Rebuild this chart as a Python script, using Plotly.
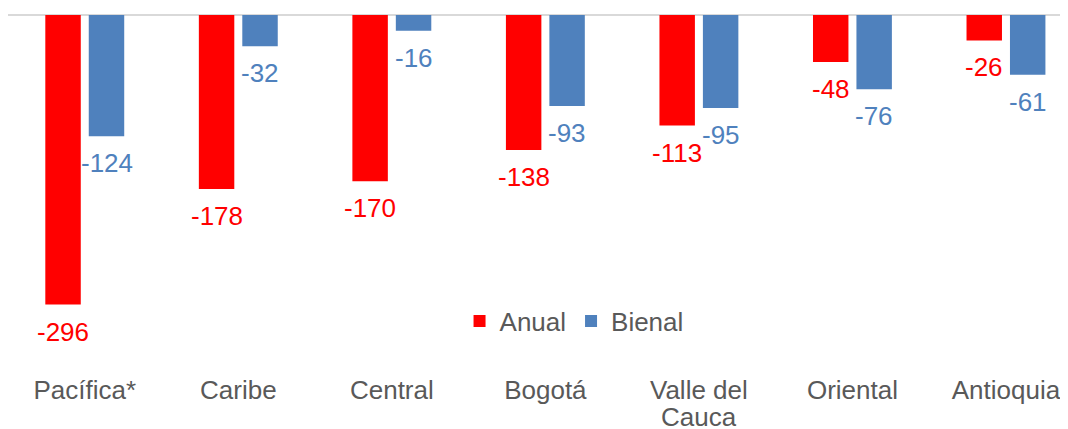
import plotly.graph_objects as go

# Data
regiones = ['Pacífica*', 'Caribe', 'Central', 'Bogotá', 'Valle del<br>Cauca', 'Oriental', 'Antioquia']
anual = [-296, -178, -170, -138, -113, -48, -26]
bienal = [-124, -32, -16, -93, -95, -76, -61]

rojo = '#FF0000'
azul = '#4F81BD'
gris = '#595959'
fuente = 'Liberation Sans, Arial, sans-serif'

fig = go.Figure()
fig.add_trace(go.Bar(x=regiones, y=anual, name='Anual', marker=dict(color=rojo, line=dict(width=0))))
fig.add_trace(go.Bar(x=regiones, y=bienal, name='Bienal', marker=dict(color=azul, line=dict(width=0))))

# data labels sit a bit below the end of each bar
for serie, color, dx in [(anual, rojo, -21.75), (bienal, azul, 21.75)]:
    for reg, val in zip(regiones, serie):
        fig.add_annotation(x=reg, y=val, text=str(val), showarrow=False,
                           xshift=dx, yshift=-27, yanchor='middle',
                           font=dict(size=26, color=color, family=fuente))

# tick labels: first line on the axis, wrapped lines placed tighter than plotly's 1.3em
primeras = [r.split('<br>')[0] for r in regiones]
for reg in regiones:
    resto = reg.split('<br>')[1:]
    for i, linea in enumerate(resto):
        fig.add_annotation(x=reg, y=0, yref='paper', text=linea, showarrow=False,
                           yanchor='middle', yshift=-45 - 28 * i, height=24,
                           font=dict(size=26, color=gris, family=fuente))

fig.update_layout(
    width=1060, height=421,
    margin=dict(l=0, r=0, t=6, b=57, autoexpand=False),
    plot_bgcolor='white', paper_bgcolor='white',
    barmode='group', bargap=0.434, bargroupgap=0.184,
    font=dict(family=fuente, size=26, color=gris),
    showlegend=True,
    legend=dict(orientation='h', x=0.534, xanchor='center', y=0.142, yanchor='middle',
                font=dict(size=26, color=gris), bgcolor='rgba(0,0,0,0)',
                itemwidth=30, tracegroupgap=0),
    xaxis=dict(range=[-0.5, 6.404], showgrid=False, showline=False, ticks='',
               automargin=False, tickvals=regiones, ticktext=primeras,
               tickfont=dict(size=26, color=gris)),
    yaxis=dict(range=[-365, 1], showgrid=False, showticklabels=False, ticks='',
               automargin=False,
               zeroline=True, zerolinecolor='#D9D9D9', zerolinewidth=2),
)

fig.write_html('out.html')
